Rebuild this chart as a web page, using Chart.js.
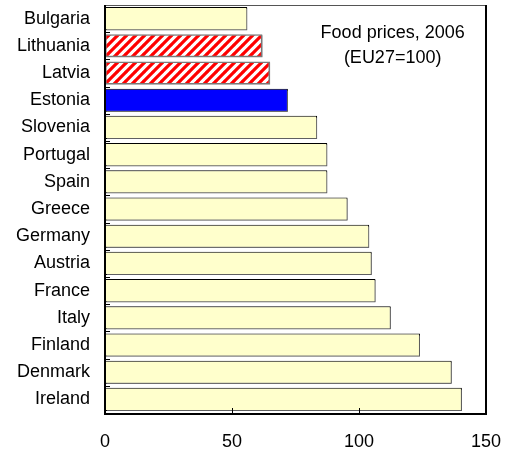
<!DOCTYPE html>
<html><head><meta charset="utf-8">
<script src="https://cdn.jsdelivr.net/npm/chart.js@4"></script>
<style>html,body{margin:0;padding:0;background:#fff}#wrap{width:511px;height:453px}</style>
</head><body><div id="wrap"><canvas id="c" width="511" height="453"></canvas></div>
<script>
const categories = ["Bulgaria","Lithuania","Latvia","Estonia","Slovenia","Portugal","Spain","Greece","Germany","Austria","France","Italy","Finland","Denmark","Ireland"];
const values = [56, 62, 65, 72, 83.5, 87.5, 87.5, 95.5, 104, 105, 106.5, 112.5, 124, 136.5, 140.5];
const xTickValues = [0, 50, 100, 150];
const titleLines = ["Food prices, 2006", "(EU27=100)"];
const blueCountries = ["Estonia"];
const hatchCountries = ["Lithuania", "Latvia"];

const FONT = "'Liberation Sans', Arial, sans-serif";

function makeHatch() {
  const s = 9;
  const cv = document.createElement('canvas');
  cv.width = s; cv.height = s;
  const g = cv.getContext('2d');
  g.fillStyle = '#ffffff';
  g.fillRect(0, 0, s, s);
  g.strokeStyle = '#ff0000';
  g.lineWidth = 3.2;
  g.beginPath();
  g.moveTo(-1, s + 1); g.lineTo(s + 1, -1);
  g.moveTo(-1 - s, s + 1); g.lineTo(1, -1);
  g.moveTo(s - 1, s + 1); g.lineTo(2 * s + 1, -1);
  g.stroke();
  return document.getElementById('c').getContext('2d').createPattern(cv, 'repeat');
}
const hatch = makeHatch();

const fills = categories.map(c => blueCountries.includes(c) ? '#0000ff' : hatchCountries.includes(c) ? hatch : '#ffffcc');
const borders = categories.map(c => hatchCountries.includes(c) ? '#7a7a7a' : '#000000');
const borderWidths = categories.map(c => hatchCountries.includes(c) ? 1.6 : 1);

function noPad(s) { s.paddingTop = 0; s.paddingBottom = 0; s.paddingLeft = 0; s.paddingRight = 0; }

const decor = {
  id: 'decor',
  beforeDatasetsDraw(chart) {
    const ctx = chart.ctx;
    ctx.save();
    ctx.shadowColor = 'rgba(120,120,120,0.8)';
    ctx.shadowOffsetX = 1;
    ctx.shadowOffsetY = 1;
    ctx.shadowBlur = 0;
  },
  afterDatasetsDraw(chart) {
    chart.ctx.restore();
  },
  afterDraw(chart) {
    const ctx = chart.ctx;
    const a = chart.chartArea;
    const xs = chart.scales.x, ys = chart.scales.y;
    ctx.save();
    ctx.strokeStyle = '#000';
    ctx.lineWidth = 1;
    ctx.beginPath();
    for (let i = 0; i <= categories.length; i++) {
      const y = Math.round(ys.getPixelForValue(i - 0.5)) + 0.5;
      ctx.moveTo(a.left, y); ctx.lineTo(a.left + 5, y);
    }
    xTickValues.forEach(v => {
      const x = Math.round(xs.getPixelForValue(v)) + 0.5;
      ctx.moveTo(x, a.bottom); ctx.lineTo(x, a.bottom - 5);
    });
    ctx.stroke();
    ctx.lineWidth = 1;
    ctx.strokeStyle = '#555';
    ctx.strokeRect(Math.round(a.left) + 0.5, Math.round(a.top) + 0.5, Math.round(a.right - a.left), Math.round(a.bottom - a.top));
    ctx.lineWidth = 2;
    ctx.strokeStyle = '#000';
    ctx.beginPath();
    ctx.moveTo(Math.round(a.left), a.top); ctx.lineTo(Math.round(a.left), a.bottom + 1);
    ctx.lineTo(a.right + 1, a.bottom + 1);
    ctx.moveTo(Math.round(a.right), a.top); ctx.lineTo(Math.round(a.right), a.bottom);
    ctx.stroke();
    ctx.fillStyle = '#000';
    ctx.font = '18px ' + FONT;
    ctx.textAlign = 'center';
    ctx.textBaseline = 'middle';
    const cx = a.left + (a.right - a.left) * 0.755;
    titleLines.forEach((t, i) => ctx.fillText(t, cx, a.top + 28 + i * 25));
    ctx.restore();
  }
};

new Chart(document.getElementById('c'), {
  type: 'bar',
  data: {
    labels: categories,
    datasets: [{
      data: values,
      backgroundColor: fills,
      borderColor: borders,
      borderWidth: borderWidths,
      borderSkipped: false,
      barPercentage: 0.85,
      categoryPercentage: 1.0
    }]
  },
  options: {
    indexAxis: 'y',
    responsive: false,
    animation: false,
    devicePixelRatio: 1,
    layout: { padding: { left: 0, right: 25, top: 5, bottom: 0 } },
    plugins: { legend: { display: false }, tooltip: { enabled: false }, title: { display: false } },
    scales: {
      x: {
        min: 0, max: 150,
        afterBuildTicks(s) { s.ticks = xTickValues.map(v => ({ value: v })); },
        afterFit(s) { s.height = 40; noPad(s); },
        grid: { display: false, drawTicks: false },
        border: { display: false },
        ticks: { color: '#000', font: { family: FONT, size: 18 }, padding: 18, maxRotation: 0 }
      },
      y: {
        afterFit(s) { s.width = 105; noPad(s); },
        grid: { display: false, drawTicks: false },
        border: { display: false },
        ticks: { color: '#000', font: { family: FONT, size: 18 }, padding: 15, autoSkip: false }
      }
    }
  },
  plugins: [decor]
});
</script>
</body></html>
